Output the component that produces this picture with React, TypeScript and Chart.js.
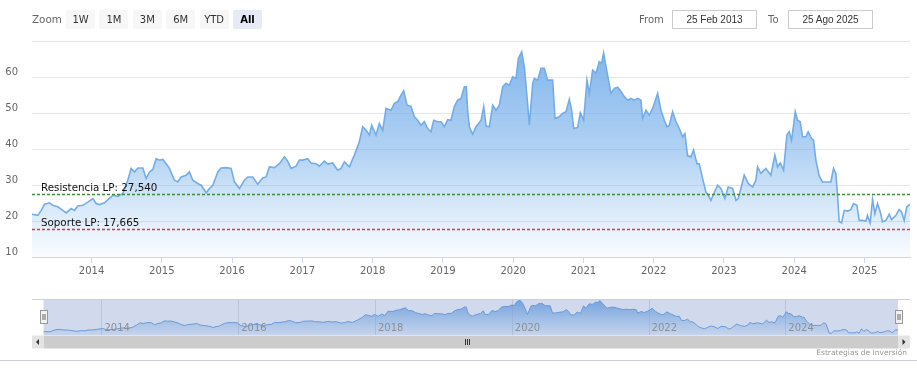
import React, { useEffect, useRef } from 'react';
import { Chart, registerables } from 'chart.js';

Chart.register(...registerables);

// ---- DATA ----
const dates: number[] = [
  2013.153, 2013.236, 2013.284, 2013.331, 2013.402, 2013.450, 2013.521, 2013.592, 2013.639, 2013.710, 2013.758, 2013.805, 2013.876, 2013.947,
  2014.019, 2014.066, 2014.113, 2014.185, 2014.232, 2014.303, 2014.374, 2014.445, 2014.516, 2014.564, 2014.611, 2014.659, 2014.730, 2014.777, 2014.825, 2014.872, 2014.920, 2014.967,
  2015.014, 2015.062, 2015.109, 2015.180, 2015.228, 2015.275, 2015.346, 2015.394, 2015.441, 2015.512, 2015.560, 2015.631, 2015.678, 2015.726, 2015.797, 2015.844, 2015.915, 2015.986,
  2016.034, 2016.105, 2016.176, 2016.223,
  2016.294, 2016.365, 2016.436, 2016.484, 2016.531, 2016.602, 2016.673, 2016.745, 2016.792, 2016.839, 2016.911, 2016.958,
  2017.005, 2017.076, 2017.124, 2017.195, 2017.242, 2017.314, 2017.361, 2017.432, 2017.503, 2017.551, 2017.598, 2017.669, 2017.740, 2017.811, 2017.859, 2017.906, 2017.954, 2017.987,
  2018.048, 2018.096, 2018.143, 2018.191, 2018.262, 2018.309, 2018.357, 2018.404, 2018.442, 2018.490, 2018.546, 2018.594, 2018.641, 2018.689, 2018.736, 2018.784, 2018.831, 2018.869, 2018.926, 2018.973,
  2019.021, 2019.068, 2019.115, 2019.163, 2019.210, 2019.258, 2019.305, 2019.334,
  2019.353, 2019.377, 2019.424, 2019.472, 2019.543, 2019.581, 2019.614, 2019.661, 2019.709, 2019.756, 2019.803, 2019.851, 2019.898, 2019.946, 2019.993,
  2020.041, 2020.074, 2020.121, 2020.159, 2020.197, 2020.230, 2020.278, 2020.301, 2020.349, 2020.396, 2020.444, 2020.491, 2020.562, 2020.595, 2020.657, 2020.704, 2020.752, 2020.799, 2020.832, 2020.861, 2020.918, 2020.956,
  2021.003, 2021.050, 2021.084, 2021.131, 2021.179, 2021.226, 2021.259, 2021.287, 2021.335, 2021.392, 2021.439, 2021.487, 2021.534, 2021.582, 2021.629, 2021.676, 2021.724, 2021.771, 2021.819, 2021.842, 2021.890, 2021.937, 2021.985,
  2022.056, 2022.103, 2022.151, 2022.189, 2022.222, 2022.269, 2022.316, 2022.364, 2022.411, 2022.444, 2022.482,
  2022.529, 2022.567, 2022.615, 2022.648, 2022.695, 2022.743, 2022.776, 2022.814, 2022.861, 2022.909, 2022.956,
  2023.013, 2023.060, 2023.122, 2023.170, 2023.203, 2023.241, 2023.288, 2023.345, 2023.407, 2023.454, 2023.478, 2023.525, 2023.596, 2023.667, 2023.724, 2023.762, 2023.800, 2023.848, 2023.895, 2023.928, 2023.961, 2023.990,
  2024.014, 2024.047, 2024.085, 2024.118, 2024.165, 2024.198, 2024.246, 2024.274, 2024.307, 2024.355, 2024.402, 2024.473, 2024.521, 2024.559, 2024.592, 2024.616, 2024.639, 2024.673, 2024.711, 2024.758, 2024.805, 2024.843, 2024.891, 2024.924, 2024.971,
  2025.019, 2025.042, 2025.080, 2025.114, 2025.147, 2025.185, 2025.223, 2025.256, 2025.303, 2025.351, 2025.384, 2025.446, 2025.493, 2025.526, 2025.564, 2025.602, 2025.647,
];

const prices: number[] = [
  21.9, 21.6, 23.0, 24.7, 25.1, 24.4, 24.0, 23.0, 22.3, 23.5, 23.0, 24.2, 24.4, 25.3,
  26.3, 24.9, 24.6, 25.1, 26.0, 27.2, 26.9, 27.7, 31.4, 34.7, 33.7, 34.8, 34.8, 31.9, 33.7, 34.4, 37.4, 37.0,
  37.2, 36.0, 34.7, 31.4, 30.9, 32.3, 32.8, 33.7, 31.4, 30.5, 30.0, 27.9, 29.1, 30.0, 33.7, 34.8, 34.9, 34.7,
  30.9, 29.1, 31.4, 32.3,
  32.3, 30.3, 32.0, 32.3, 35.1, 34.9, 36.0, 37.9, 36.7, 34.7, 35.3, 37.0,
  37.0, 37.4, 36.2, 36.0, 35.3, 36.7, 35.9, 36.2, 34.2, 34.7, 36.5, 35.1, 38.4, 42.1, 46.3, 45.3, 44.0, 46.7,
  44.0, 47.2, 45.3, 51.4, 50.9, 52.8, 53.3, 55.1, 56.3, 52.3, 52.0, 49.1, 48.1, 46.7, 47.7, 45.8, 44.9, 48.1, 47.7, 47.7,
  46.3, 48.3, 48.1, 51.9, 53.7, 54.2, 57.4, 57.4,
  50.5, 46.3, 44.2, 46.3, 48.1, 51.9, 46.5, 46.3, 52.3, 50.9, 52.3, 57.4, 58.4, 57.9, 60.2,
  59.8, 65.3, 67.2, 63.0, 54.7, 46.7, 58.4, 59.8, 59.3, 62.6, 62.6, 59.3, 59.3, 48.6, 49.1, 50.0, 50.5, 53.9, 50.9, 45.8, 46.1, 50.2,
  48.1, 59.3, 55.6, 62.1, 61.2, 64.4, 64.0, 66.9, 61.6, 55.6, 57.0, 57.3, 56.1, 54.7, 53.7, 54.2, 53.7, 54.2, 53.7, 48.6, 50.9, 49.5, 51.4,
  55.6, 50.9, 48.1, 46.3, 46.7, 50.5, 47.7, 45.8, 43.5, 44.4, 38.2,
  37.9, 39.8, 36.0, 36.0, 31.9, 28.1, 27.2, 25.8, 27.9, 30.0, 29.1,
  26.3, 29.5, 29.1, 25.8, 26.3, 29.1, 32.8, 30.5, 29.5, 31.4, 35.1, 33.3, 34.7, 32.8, 38.4, 35.1, 36.2, 34.2, 44.0, 44.9, 42.6, 46.7,
  50.5, 48.1, 47.7, 43.5, 43.5, 44.9, 43.0, 42.6, 37.0, 32.6, 30.9, 30.9, 30.9, 34.7, 33.3, 27.2, 19.8, 19.5, 23.0, 22.8, 23.2, 24.9, 24.4, 20.2, 20.2,
  20.0, 21.6, 19.5, 26.0, 22.1, 24.9, 22.6, 19.8, 20.2, 21.9, 20.4, 21.6, 23.2, 22.6, 20.2, 24.0, 24.7,
];

const yTickValues = [10, 20, 30, 40, 50, 60, 70];
const xTickYears = [2014, 2015, 2016, 2017, 2018, 2019, 2020, 2021, 2022, 2023, 2024, 2025];
const navTickYears = [2014, 2016, 2018, 2020, 2022, 2024];
const levelValues = [27.54, 17.665];
const levelLabels = ['Resistencia LP: 27,540', 'Soporte LP: 17,665'];
const zoomLabels = ['1W', '1M', '3M', '6M', 'YTD', 'All'];
const selectedZoom = 'All';
const fromText = '25 Feb 2013';
const toText = '25 Ago 2025';
const creditText = 'Estrategias de Inversión';

const FONT = '"DejaVu Sans", Verdana, sans-serif';

function points() {
  return dates.map((d, i) => ({ x: d, y: prices[i] }));
}

function MainChart() {
  const ref = useRef<HTMLCanvasElement>(null);
  useEffect(() => {
    const canvas = ref.current!;
    const levelColors = ['#3f8c3f', '#d23a48'];
    const levelsPlugin = {
      id: 'levels',
      afterDatasetsDraw(chart: any) {
        const { ctx, chartArea, scales } = chart;
        ctx.save();
        levelValues.forEach((v, i) => {
          const y = Math.round(scales.y.getPixelForValue(v)) + 0.5;
          ctx.strokeStyle = levelColors[i];
          ctx.lineWidth = 1.3;
          ctx.setLineDash([3, 2]);
          ctx.beginPath();
          ctx.moveTo(chartArea.left, y);
          ctx.lineTo(chartArea.right, y);
          ctx.stroke();
          ctx.setLineDash([]);
          ctx.fillStyle = '#111';
          ctx.font = '10.3px ' + FONT;
          ctx.textBaseline = 'alphabetic';
          ctx.textAlign = 'left';
          ctx.fillText(levelLabels[i], chartArea.left + 9, y - 3.5);
        });
        ctx.restore();
      },
    };
    const chart = new Chart(canvas, {
      type: 'line',
      data: {
        datasets: [
          {
            data: points(),
            borderColor: '#74ade6',
            borderWidth: 1.6,
            pointRadius: 0,
            tension: 0,
            fill: 'start',
            backgroundColor: (c: any) => {
              const ch = c.chart;
              const area = ch.chartArea;
              if (!area) return 'rgba(124,181,236,0.5)';
              const g = ch.ctx.createLinearGradient(0, area.top, 0, area.bottom);
              g.addColorStop(0, 'rgba(118,174,234,0.95)');
              g.addColorStop(0.5, 'rgba(124,179,236,0.6)');
              g.addColorStop(1, 'rgba(124,181,236,0.04)');
              return g;
            },
          },
        ],
      },
      options: {
        animation: false,
        responsive: false,
        maintainAspectRatio: false,
        layout: { padding: { left: 0, right: 7, top: 41.7, bottom: 0 } },
        plugins: { legend: { display: false }, tooltip: { enabled: false } },
        scales: {
          x: {
            type: 'linear',
            min: dates[0],
            max: dates[dates.length - 1],
            afterBuildTicks: (s: any) => {
              s.ticks = xTickYears.map((v) => ({ value: v }));
            },
            afterFit: (s: any) => {
              s.height = 33;
            },
            ticks: {
              autoSkip: false,
              maxRotation: 0,
              padding: 2,
              color: '#666',
              font: { family: FONT, size: 10 },
              callback: (v: any) => String(v),
            },
            grid: { drawOnChartArea: false, drawTicks: true, tickLength: 6, color: '#ccd6eb' },
            border: { display: true, color: '#ccd6eb' },
          },
          y: {
            type: 'linear',
            min: 10,
            max: 70,
            afterBuildTicks: (s: any) => {
              s.ticks = yTickValues.map((v) => ({ value: v }));
            },
            afterFit: (s: any) => {
              s.width = 32;
            },
            ticks: {
              padding: 14,
              labelOffset: -5,
              color: '#666',
              font: { family: FONT, size: 10 },
              callback: (v: any) => (v === 70 ? '' : String(v)),
            },
            grid: { color: '#e6e6e6', drawTicks: false },
            border: { display: false },
          },
        },
      },
      plugins: [levelsPlugin],
    } as any);
    return () => chart.destroy();
  }, []);
  return (
    <canvas
      ref={ref}
      width={917}
      height={290}
      style={{ position: 'absolute', left: 0, top: 0, width: 917, height: 290 }}
    />
  );
}

function Navigator() {
  const ref = useRef<HTMLCanvasElement>(null);
  useEffect(() => {
    const canvas = ref.current!;
    const navPlugin = {
      id: 'navDecor',
      beforeDatasetsDraw(chart: any) {
        const { ctx, chartArea, scales } = chart;
        ctx.save();
        ctx.strokeStyle = '#e0e0e0';
        ctx.lineWidth = 1;
        navTickYears.forEach((yr) => {
          const x = Math.round(scales.x.getPixelForValue(yr)) + 0.5;
          ctx.beginPath();
          ctx.moveTo(x, chartArea.top);
          ctx.lineTo(x, chartArea.bottom);
          ctx.stroke();
        });
        ctx.restore();
      },
      afterDatasetsDraw(chart: any) {
        const { ctx, chartArea, scales } = chart;
        const L = chartArea.left;
        const R = chartArea.right;
        const T = chartArea.top;
        const B = chartArea.bottom;
        ctx.save();
        // mask (selected range = all)
        ctx.fillStyle = 'rgba(102,133,194,0.3)';
        ctx.fillRect(L, T, R - L, B - T);
        // outline top
        ctx.strokeStyle = '#d0d0d0';
        ctx.lineWidth = 1;
        ctx.beginPath();
        ctx.moveTo(L - 11.5, T + 0.5);
        ctx.lineTo(R + 12, T + 0.5);
        ctx.stroke();
        // labels
        ctx.fillStyle = '#8a8f99';
        ctx.font = '10px ' + FONT;
        ctx.textAlign = 'left';
        ctx.textBaseline = 'alphabetic';
        navTickYears.forEach((yr) => {
          const x = scales.x.getPixelForValue(yr);
          ctx.fillText(String(yr), x + 3, B - 4);
        });
        // handles
        [L, R].forEach((hx) => {
          const x0 = Math.round(hx - 3.5) + 0.5;
          ctx.fillStyle = '#f2f2f2';
          ctx.strokeStyle = '#999';
          ctx.fillRect(x0, 11.5, 7, 13);
          ctx.strokeRect(x0, 11.5, 7, 13);
          ctx.strokeStyle = '#666';
          ctx.beginPath();
          ctx.moveTo(x0 + 2.5, 15);
          ctx.lineTo(x0 + 2.5, 21);
          ctx.moveTo(x0 + 4.5, 15);
          ctx.lineTo(x0 + 4.5, 21);
          ctx.stroke();
        });
        // scrollbar
        const sy = B + 0.5;
        const sh = 13;
        ctx.fillStyle = '#cccccc';
        ctx.fillRect(L, sy, R - L, sh);
        ctx.fillStyle = '#e3e3e3';
        ctx.fillRect(L - 11.5, sy, 11.5, sh);
        ctx.fillRect(R, sy, 12, sh);
        ctx.fillStyle = '#333';
        const my = sy + sh / 2;
        const lx = L - 6;
        ctx.beginPath();
        ctx.moveTo(lx - 1.5, my);
        ctx.lineTo(lx + 1.5, my - 3);
        ctx.lineTo(lx + 1.5, my + 3);
        ctx.closePath();
        ctx.fill();
        const rx = R + 6;
        ctx.beginPath();
        ctx.moveTo(rx + 1.5, my);
        ctx.lineTo(rx - 1.5, my - 3);
        ctx.lineTo(rx - 1.5, my + 3);
        ctx.closePath();
        ctx.fill();
        // grip
        const cx = Math.round((L + R) / 2) - 3.5;
        ctx.strokeStyle = '#333';
        ctx.lineWidth = 1;
        ctx.beginPath();
        [-2, 0, 2].forEach((d) => {
          ctx.moveTo(cx + d, my - 3);
          ctx.lineTo(cx + d, my + 3);
        });
        ctx.stroke();
        ctx.restore();
      },
    };
    const chart = new Chart(canvas, {
      type: 'line',
      data: {
        datasets: [
          {
            data: points(),
            borderColor: '#6aa3e2',
            borderWidth: 1,
            pointRadius: 0,
            tension: 0,
            fill: 'start',
            backgroundColor: (c: any) => {
              const ch = c.chart;
              const area = ch.chartArea;
              if (!area) return 'rgba(124,181,236,0.5)';
              const g = ch.ctx.createLinearGradient(0, area.top, 0, area.bottom);
              g.addColorStop(0, 'rgba(120,172,232,1)');
              g.addColorStop(1, 'rgba(124,181,236,0.12)');
              return g;
            },
          },
        ],
      },
      options: {
        animation: false,
        responsive: false,
        maintainAspectRatio: false,
        layout: { padding: { left: 43.5, right: 19, top: 0, bottom: 14 } },
        plugins: { legend: { display: false }, tooltip: { enabled: false } },
        scales: {
          x: { type: 'linear', display: false, min: dates[0], max: dates[dates.length - 1] },
          y: { type: 'linear', display: false, min: 17, max: 69 },
        },
      },
      plugins: [navPlugin],
    } as any);
    return () => chart.destroy();
  }, []);
  return (
    <canvas
      ref={ref}
      width={917}
      height={50}
      style={{ position: 'absolute', left: 0, top: 299, width: 917, height: 50 }}
    />
  );
}

const abs = (o: React.CSSProperties): React.CSSProperties => ({ position: 'absolute', ...o });

export default function App() {
  return (
    <div
      style={{
        position: 'absolute',
        left: 0,
        top: 0,
        width: 917,
        height: 378,
        background: '#fff',
        overflow: 'hidden',
        fontFamily: FONT,
      }}
    >
      <MainChart />
      <Navigator />
      <div style={abs({ left: 32, top: 10, height: 19, lineHeight: '19px', fontSize: 10.4, color: '#666' })}>Zoom</div>
      {zoomLabels.map((l, i) => {
        const sel = l === selectedZoom;
        return (
          <div
            key={l}
            style={abs({
              left: 66 + i * 33.4,
              top: 10,
              width: 29,
              height: 19,
              lineHeight: '19px',
              textAlign: 'center',
              fontSize: 10,
              background: sel ? '#e6ebf5' : '#f7f7f7',
              color: sel ? '#000' : '#333',
              fontWeight: sel ? 'bold' : 'normal',
              borderRadius: 2,
            })}
          >
            {l}
          </div>
        );
      })}
      <div style={abs({ left: 639, top: 10, height: 19, lineHeight: '19px', fontSize: 10, color: '#666' })}>From</div>
      <div
        style={abs({
          left: 672,
          top: 10,
          width: 83,
          height: 17,
          border: '1px solid #cccccc',
          lineHeight: '17px',
          textAlign: 'center',
          fontSize: 10,
          fontFamily: '"Liberation Sans", Arial, sans-serif',
          color: '#333',
        })}
      >
        {fromText}
      </div>
      <div style={abs({ left: 768, top: 10, height: 19, lineHeight: '19px', fontSize: 10, color: '#666' })}>To</div>
      <div
        style={abs({
          left: 788,
          top: 10,
          width: 83,
          height: 17,
          border: '1px solid #cccccc',
          lineHeight: '17px',
          textAlign: 'center',
          fontSize: 10,
          fontFamily: '"Liberation Sans", Arial, sans-serif',
          color: '#333',
        })}
      >
        {toText}
      </div>
      <div
        style={abs({
          right: 10,
          top: 347,
          height: 12,
          lineHeight: '12px',
          fontSize: 7.5,
          color: '#999',
          whiteSpace: 'nowrap',
        })}
      >
        {creditText}
      </div>
      <div style={abs({ left: 0, top: 360, width: 917, height: 1, background: '#cdd0dc' })} />
    </div>
  );
}
